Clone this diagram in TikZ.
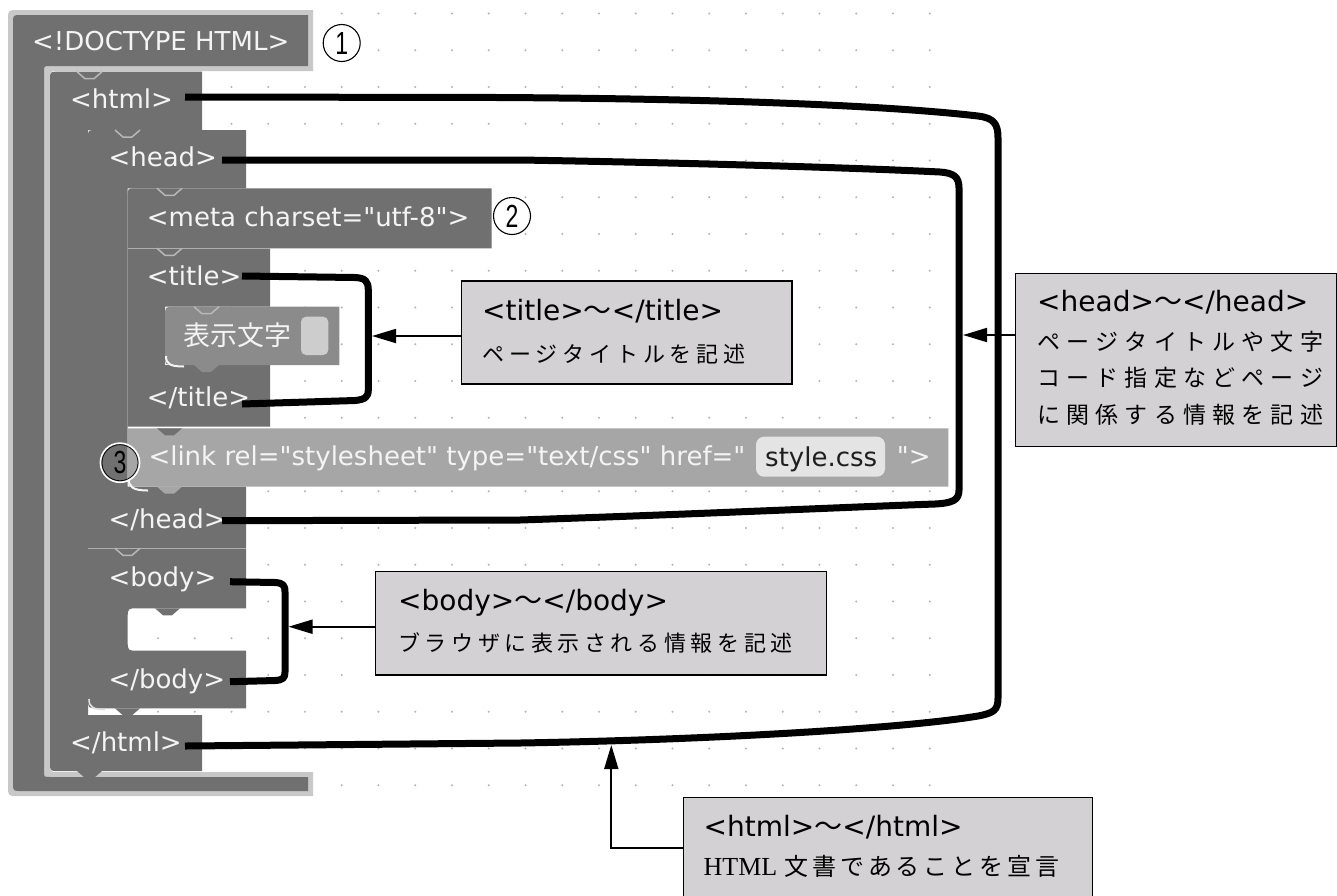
\documentclass[tikz,border=0pt]{standalone}
\usepackage{fontspec}
\usepackage{graphicx}
\setmainfont{DejaVu Sans}[Ligatures=TeXOff]
\newfontfamily\jpf{Noto Sans CJK JP}
\newfontfamily\serf{Liberation Serif}
\newfontfamily\digf{Liberation Sans}
\usetikzlibrary{arrows.meta}
\makeatletter
\def\jsp#1#2{\def\jsp@gap{#1}\jsp@a#2\relax}
\def\jsp@a#1{\ifx\relax#1\else#1\hskip\jsp@gap\relax\expandafter\jsp@a\fi}
\makeatother
\newcommand\dq{\char34\relax}
\definecolor{blk}{HTML}{707070}
\definecolor{blkhi}{HTML}{C8C8C8}
\definecolor{lnk}{HTML}{A6A6A6}
\definecolor{val}{HTML}{8B8B8B}
\definecolor{fld}{HTML}{CDCDCD}
\definecolor{fldb}{HTML}{E4E4E4}
\definecolor{boxc}{HTML}{D3D1D3}
\definecolor{dotc}{HTML}{B4B4B4}
\definecolor{txtw}{HTML}{F4F4F4}
\definecolor{notchc}{HTML}{B8B8B8}
\newcommand\notchv[2]{\draw[notchc, line width=1.5pt] (#1,#2) -- ++(8,7) -- ++(9,0) -- ++(8,-7);}
\newcommand\tabf[3]{\fill[#3] (#1,#2) -- ++(8,7) -- ++(9,0) -- ++(8,-7) -- cycle;}
\begin{document}
\begin{tikzpicture}[x=1pt,y=-1pt,
  btxt/.style={anchor=base west, inner sep=0pt, text=txtw, font=\fontsize{26}{30}\selectfont},
  htxt/.style={anchor=base west, inner sep=0pt, text=black, font=\fontsize{28}{32}\selectfont},
  jtxt/.style={anchor=west, inner sep=0pt, text=black},
  infobox/.style={draw=black, fill=boxc, line width=1.3pt, inner sep=0pt},
  bracket/.style={line width=7pt, line join=round},
  arr/.style={line width=1.8pt, -{Triangle[length=24pt,width=14pt]}},
  circnum/.style={circle, draw=black, line width=1.1pt, minimum size=37pt, inner sep=0pt, font=\digf\fontsize{32}{34}\selectfont}
]
\useasboundingbox (0,0) rectangle (1337,895);
\fill[white] (0,0) rectangle (1337,895);
% grid
\foreach \i in {0,...,25}{\foreach \j in {0,...,21}{\fill[dotc] (11+36.75*\i,13.5+36.75*\j) circle (1.2pt);}}
% DOCTYPE block (selected outline)
\fill[blkhi] (313,10) -- (313,71) -- (58,71) .. controls (50,71) .. (50,79) -- (50,764) .. controls (50,772) .. (58,772) -- (313,772) -- (313,796) -- (18,796) .. controls (8,796) .. (8,786) -- (8,20) .. controls (8,10) .. (18,10) -- cycle;
\fill[blk] (308,15) -- (308,66) -- (50,66) .. controls (44,66) .. (44,72) -- (44,771) .. controls (44,777) .. (50,777) -- (308,777) -- (308,791) -- (21,791) .. controls (13,791) .. (13,783) -- (13,23) .. controls (13,15) .. (21,15) -- cycle;
% html block
\fill[blk] (202,71.7) -- (202,130) -- (88,130) -- (88,715) -- (202,715) -- (202,771) -- (58,771) .. controls (50,771) .. (50,763) -- (50,79.7) .. controls (50,71.7) .. (58,71.7) -- cycle;
\tabf{77}{771}{blk}
% head block
\fill[blk] (246,130) -- (246,188.3) -- (127.7,188.3) -- (127.7,486.7) -- (246,486.7) -- (246,548.3) -- (88,548.3) -- (88,138) .. controls (88,130) .. (96,130) -- cycle;
% meta block
\fill[blk] (127.7,248.3) -- (127.7,196.3) .. controls (127.7,188.3) .. (135.7,188.3) -- (491.7,188.3) -- (491.7,248.3) -- cycle;
% title block
\fill[blk] (127.7,426.7) -- (127.7,248.3) -- (270,248.3) -- (270,306.7) -- (165,306.7) -- (165,365) -- (270,365) -- (270,426.7) -- cycle;
\draw[blkhi!70!blk, line width=0.8pt] (127.7,248.3) -- (270,248.3);
% value block
\fill[val] (339.3,306.7) -- (339.3,365) -- (175,365) .. controls (165,365) .. (165,355) -- (165,316.7) .. controls (165,306.7) .. (175,306.7) -- cycle;
\tabf{194}{365}{val}
\fill[fld, rounded corners=5pt] (301,316.7) rectangle (328.3,355);
\draw[white!92!gray, line width=2pt] (166,356) .. controls (166,364) and (170,366.5) .. (184,366.5);
% link block
\fill[lnk] (948.3,428.3) -- (948.3,486.7) -- (137.7,486.7) .. controls (127.7,486.7) .. (127.7,476.7) -- (127.7,428.3) -- cycle;
\tabf{157}{428.3}{blk}
\tabf{157}{486.7}{lnk}
\draw[white!92!gray, line width=2pt] (128.5,478) .. controls (128.5,487) and (133,490.5) .. (148,490.5);
\fill[fldb, rounded corners=8pt] (756,436.7) rectangle (885,476.7);
% body block
\fill[blk] (246,548.3) -- (246,608.3) -- (137.7,608.3) .. controls (127.7,608.3) .. (127.7,618.3) -- (127.7,640.7) .. controls (127.7,650.7) .. (137.7,650.7) -- (246,650.7) -- (246,708.3) -- (98,708.3) .. controls (88,708.3) .. (88,698.3) -- (88,548.3) -- cycle;
\draw[blkhi!70!blk, line width=0.8pt] (88,548.3) -- (246,548.3);
\tabf{155}{608.3}{blk}
\tabf{115}{708.3}{blk}
\draw[white!75!gray, line width=1.6pt] (89,699) .. controls (89,707) and (93,709.5) .. (105,709.5);
% notches
\notchv{77}{71.7}
\notchv{115}{130}
\notchv{157}{188.3}
\notchv{157}{248.3}
\notchv{115}{548.3}
\notchv{194}{306.7}
% block texts
\node[btxt] (ndoc) at (32,50.7) {<!DOCTYPE HTML>};
\node[btxt] (nhtml) at (70,108.3) {<html>};
\node[btxt] (nhead) at (108.3,166.7) {<head>};
\node[btxt] (nmeta) at (146.7,226.7) {<meta charset=\dq utf-8\dq>};
\node[btxt] (ntitle) at (146.7,285) {<title>};
\node[anchor=west, inner sep=0pt, text=txtw, font=\jpf\fontsize{27}{30}\selectfont] (nval) at (183.3,335) {表示文字};
\node[btxt] (nctitle) at (146.7,406.7) {</title>};
\node[btxt] (nlink) at (148.3,465) {<link rel=\dq stylesheet\dq{} type=\dq text/css\dq{} href=\dq};
\node[btxt, text=black!88] (ncss) at (765,466) {style.css};
\node[btxt] (nlinkend) at (896.7,465) {\dq>};
\node[btxt] (nchead) at (108.3,528.3) {</head>};
\node[btxt] (nbody) at (108.3,586.7) {<body>};
\node[btxt] (ncbody) at (108.3,688.3) {</body>};
\node[btxt] (nchtml) at (70,751.7) {</html>};
% circled numbers
\node[circnum] (c1) at (341.7,43) {\scalebox{0.72}[1]{1}};
\node[circnum] (c2) at (512,216) {\scalebox{0.72}[1]{2}};
\draw[white, line width=1.6pt] (120,462.7) circle (19.6pt);
\node[circnum, line width=0.7pt, minimum size=36pt] (c3) at (120,462.7) {\scalebox{0.72}[1]{3}};
% connector start/end points
\coordinate (hA) at (185,97);
\coordinate (hB) at (185,746);
\coordinate (hdA) at (222,160);
\coordinate (hdB) at (222,520.7);
\coordinate (tA) at (242,276);
\coordinate (tB) at (242,404);
\coordinate (bA) at (230,581.7);
\coordinate (bB) at (230,681.7);
% brackets
\draw[bracket] (hA) -- (500,97.5) .. controls (750,99) and (900,107) .. (978,116) .. controls (994,118) and (998,124) .. (998,138) -- (998,698) .. controls (998,710) and (994,713) .. (978,716) .. controls (900,729) and (700,740) .. (520,743) -- (hB);
\draw[bracket] (hdA) -- (520,160) .. controls (700,163) and (860,168) .. (940,172) .. controls (954,173) and (959,177) .. (959,188) -- (959,490) .. controls (959,500) and (953,503) .. (935,504) .. controls (850,507) and (700,514) .. (520,520) -- (hdB);
\draw[bracket] (tA) -- (355,277.5) .. controls (365,278) and (368.3,281) .. (368.3,290) -- (368.3,390) .. controls (368.3,397) and (365,399.5) .. (355,400.5) -- (tB);
\draw[bracket] (bA) -- (275,582.5) .. controls (283,583) and (285,585) .. (285,592) -- (285,672) .. controls (285,678) and (283,680) .. (275,680.5) -- (bB);
% info boxes
\node[infobox, minimum width=330.3pt, minimum height=103pt] (tbox) at (626.85,332.5) {};
\node[infobox, minimum width=320.5pt, minimum height=173.4pt] (hdbox) at (1176.05,360) {};
\node[infobox, minimum width=451.2pt, minimum height=103.7pt] (bbox) at (600.9,623.15) {};
\node[infobox, minimum width=409.4pt, minimum height=110pt] (htbox) at (888,852.3) {};
% box texts
\node[htxt] (t1) at (482,320) {<title>{\jpf ～}</title>};
\node[jtxt, font=\jpf\fontsize{22}{26}\selectfont] (t2) at (482,354) {\jsp{4.8pt}{ページタイトルを記述}};
\node[htxt] (h1) at (1037,311.7) {<head>{\jpf ～}</head>};
\node[jtxt, font=\jpf\fontsize{23}{27}\selectfont] (h2) at (1037,341.7) {\jsp{6.2pt}{ページタイトルや文字}};
\node[jtxt, font=\jpf\fontsize{23}{27}\selectfont] (h3) at (1037,378.3) {\jsp{6.2pt}{コード指定などページ}};
\node[jtxt, font=\jpf\fontsize{23}{27}\selectfont] (h4) at (1037,415) {\jsp{6.2pt}{に関係する情報を記述}};
\node[htxt] (b1) at (398,610.3) {<body>{\jpf ～}</body>};
\node[jtxt, font=\jpf\fontsize{22}{26}\selectfont] (b2) at (398,643.3) {\jsp{4.6pt}{ブラウザに表示される情報を記述}};
\node[htxt] (x1) at (703.5,836.5) {<html>{\jpf ～}</html>};
\node[jtxt] (x2) at (703.5,866) {{\serf\fontsize{26}{30}\selectfont HTML}\hskip7pt{\jpf\fontsize{24}{28}\selectfont\jsp{3.9pt}{文書であることを宣言}}};
% arrows
\coordinate (tTip) at (372,336);
\coordinate (hdTip) at (963,335);
\coordinate (bTip) at (288.5,626.7);
\coordinate (htC) at (611.3,848.3);
\coordinate (htTip) at (611.3,745);
\draw[arr] (tbox.west |- tTip) -- (tTip);
\draw[arr] (hdbox.west |- hdTip) -- (hdTip);
\draw[arr] (bbox.west |- bTip) -- (bTip);
\draw[arr] (htbox.west |- htC) -- (htC) -- (htTip);
\end{tikzpicture}
\end{document}
